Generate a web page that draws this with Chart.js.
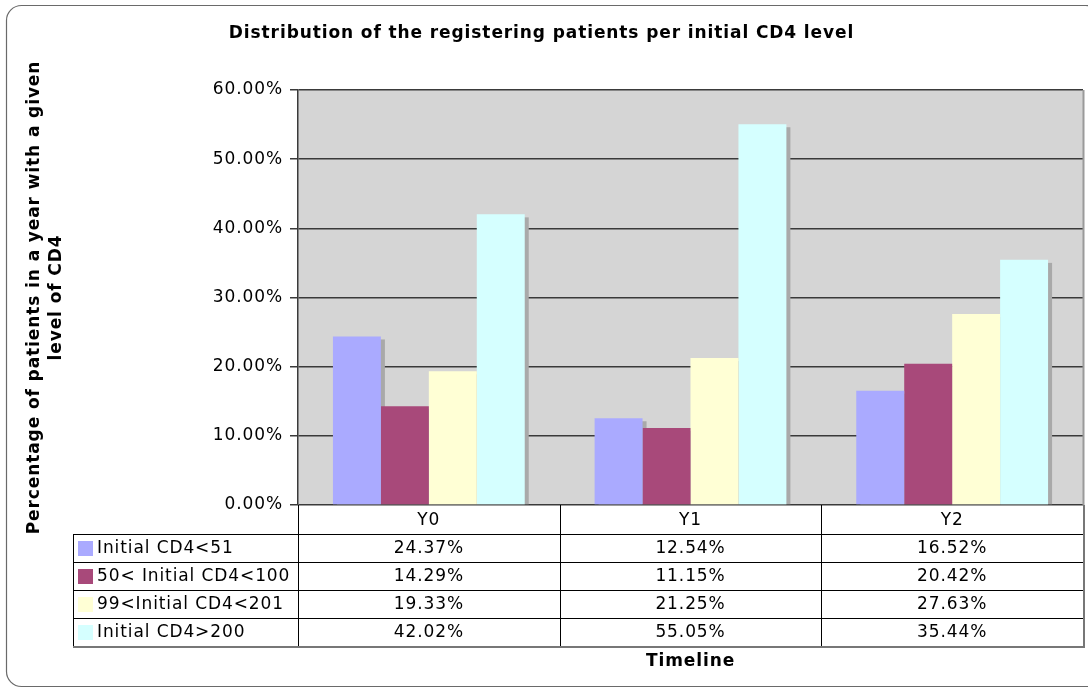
<!DOCTYPE html>
<html>
<head>
<meta charset="utf-8">
<script src="https://cdn.jsdelivr.net/npm/chart.js@4/dist/chart.umd.min.js"></script>
<style>
  html, body { margin: 0; padding: 0; background: #ffffff; }
  #wrap { width: 1088px; height: 688px; }
</style>
</head>
<body>
<div id="wrap"><canvas id="c" width="1088" height="688"></canvas></div>
<script>
// ---- data ----
const categories = ['Y0', 'Y1', 'Y2'];
const seriesNames = ['Initial CD4<51', '50< Initial CD4<100', '99<Initial CD4<201', 'Initial CD4>200'];
const cd4Under51 = [24.37, 12.54, 16.52];
const cd4From50To100 = [14.29, 11.15, 20.42];
const cd4From99To201 = [19.33, 21.25, 27.63];
const cd4Over200 = [42.02, 55.05, 35.44];
const yTickValues = [0, 10, 20, 30, 40, 50, 60];

const seriesValues = [cd4Under51, cd4From50To100, cd4From99To201, cd4Over200];
const seriesColors = ['#aaaaff', '#a8497a', '#ffffd5', '#d5ffff'];

const FONT = "'DejaVu Sans', Verdana, sans-serif";
const SPACING = '0.9px';
const fmt = v => v.toFixed(2) + '%';

const frame = {
  id: 'frame',
  beforeDraw(chart) {
    const { ctx, chartArea: a } = chart;
    ctx.save();
    ctx.fillStyle = '#ffffff';
    ctx.fillRect(0, 0, chart.width, chart.height);
    ctx.strokeStyle = '#6a6a6a';
    ctx.lineWidth = 1.2;
    ctx.beginPath();
    ctx.roundRect(6.5, 5.5, 1094, 681, 15);
    ctx.stroke();
    ctx.fillStyle = '#d5d5d5';
    ctx.fillRect(a.left, a.top, a.right - a.left, a.bottom - a.top);
    ctx.restore();
    // slightly wider glyph spacing (Verdana-like) for all text drawn afterwards
    ctx.letterSpacing = SPACING;
  },
  beforeDatasetsDraw(chart) {
    const { ctx, chartArea: a } = chart;
    ctx.save();
    ctx.beginPath();
    ctx.rect(a.left, a.top, a.right - a.left, a.bottom - a.top);
    ctx.clip();
    ctx.fillStyle = '#a9a9a9';
    chart.data.datasets.forEach((ds, i) => {
      chart.getDatasetMeta(i).data.forEach(bar => {
        const w = bar.width;
        ctx.fillRect(bar.x - w / 2 + 4, bar.y + 3, w, bar.base - bar.y - 3);
      });
    });
    ctx.restore();
  },
  afterDraw(chart) {
    const { ctx, chartArea: a } = chart;
    const xs = chart.scales.x;
    const n = categories.length;
    const bounds = [a.left];
    for (let i = 0; i < n - 1; i++) bounds.push((xs.getPixelForValue(i) + xs.getPixelForValue(i + 1)) / 2);
    bounds.push(a.right);
    const top = a.bottom;
    const headH = 29, rowH = 28;
    const legendLeft = 73;
    const bottom = top + headH + rowH * seriesNames.length;
    ctx.save();
    ctx.letterSpacing = SPACING;
    ctx.strokeStyle = '#9a9a9a';
    ctx.lineWidth = 2;
    ctx.beginPath();
    ctx.moveTo(a.right + 0.5, a.top);
    ctx.lineTo(a.right + 0.5, a.bottom);
    ctx.stroke();

    ctx.strokeStyle = '#000000';
    ctx.lineWidth = 1;
    ctx.beginPath();
    for (let i = 0; i < bounds.length - 1; i++) {
      ctx.moveTo(Math.round(bounds[i]) + 0.5, top);
      ctx.lineTo(Math.round(bounds[i]) + 0.5, bottom);
    }
    ctx.moveTo(legendLeft + 0.5, top + headH);
    ctx.lineTo(legendLeft + 0.5, bottom);
    for (let r = 0; r < seriesNames.length; r++) {
      const y = Math.round(top + headH + r * rowH) + 0.5;
      ctx.moveTo(legendLeft, y);
      ctx.lineTo(a.right, y);
    }
    ctx.stroke();
    ctx.strokeStyle = '#777777';
    ctx.lineWidth = 2;
    ctx.beginPath();
    ctx.moveTo(Math.round(a.right) + 1, top);
    ctx.lineTo(Math.round(a.right) + 1, bottom + 1);
    ctx.moveTo(legendLeft, bottom + 1);
    ctx.lineTo(Math.round(a.right) + 2, bottom + 1);
    ctx.stroke();

    ctx.fillStyle = '#000000';
    ctx.font = '17px ' + FONT;
    ctx.textBaseline = 'middle';
    ctx.textAlign = 'center';
    categories.forEach((c, i) => ctx.fillText(c, xs.getPixelForValue(i), top + headH / 2 + 1));
    seriesNames.forEach((name, r) => {
      const cy = top + headH + r * rowH + rowH / 2 + 1;
      seriesValues[r].forEach((v, i) => ctx.fillText(fmt(v), xs.getPixelForValue(i), cy));
      ctx.fillStyle = seriesColors[r];
      ctx.fillRect(78, cy - 8, 15, 15);
      ctx.fillStyle = '#000000';
      ctx.textAlign = 'left';
      ctx.fillText(name, 97, cy);
      ctx.textAlign = 'center';
    });
    ctx.font = 'bold 17px ' + FONT;
    ctx.fillText('Timeline', (a.left + a.right) / 2, 662);
    ctx.restore();
  }
};

new Chart(document.getElementById('c'), {
  type: 'bar',
  data: {
    labels: categories,
    datasets: seriesNames.map((name, i) => ({
      label: name,
      data: seriesValues[i],
      backgroundColor: seriesColors[i],
      borderWidth: 0,
      categoryPercentage: 0.733,
      barPercentage: 1.0
    }))
  },
  options: {
    responsive: false,
    devicePixelRatio: 1,
    animation: false,
    layout: { padding: { left: 0, right: 5, top: 0, bottom: 183 } },
    plugins: {
      legend: { display: false },
      tooltip: { enabled: false },
      title: {
        display: true,
        text: 'Distribution of the registering patients per initial CD4 level',
        color: '#000000',
        font: { family: FONT, size: 17, weight: 'bold', lineHeight: 1.2 },
        padding: { top: 23, bottom: 46.6 }
      }
    },
    scales: {
      x: { display: false },
      y: {
        min: 0,
        max: 60,
        afterBuildTicks: s => { s.ticks = yTickValues.map(v => ({ value: v })); },
        afterFit: s => { s.width = 298; },
        ticks: {
          color: '#000000',
          font: { family: FONT, size: 17 },
          padding: 7,
          callback: v => fmt(v)
        },
        grid: { color: '#3a3a3a', lineWidth: 1.5, tickLength: 8, drawTicks: true },
        border: { display: true, color: '#3a3a3a', width: 1.5 },
        title: {
          display: true,
          text: ['Percentage of patients in a year with a given', 'level of CD4'],
          color: '#000000',
          font: { family: FONT, size: 17, weight: 'bold', lineHeight: 1.294 },
          padding: { top: 24, bottom: 0 }
        }
      }
    }
  },
  plugins: [frame]
});
</script>
</body>
</html>
